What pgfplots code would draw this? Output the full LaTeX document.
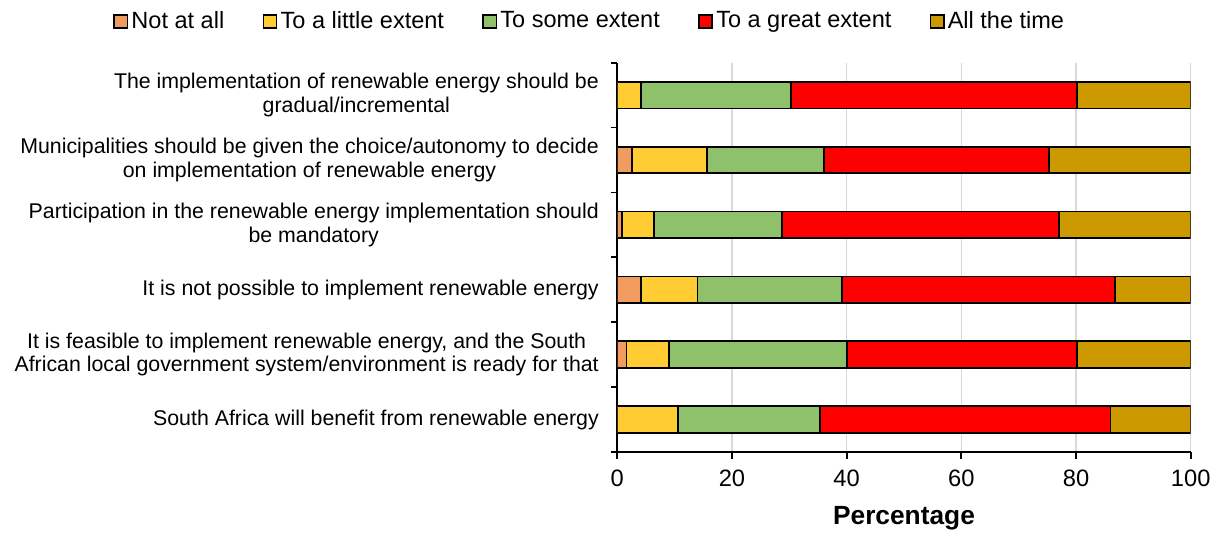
\documentclass[border=0pt]{standalone}
\usepackage{pgfplots}
\usepackage{pgfplotstable}
\pgfplotsset{compat=1.18}
\usepackage{fontspec}
\setmainfont{Liberation Sans}

\definecolor{cNot}{RGB}{242,155,95}
\definecolor{cLittle}{RGB}{255,204,51}
\definecolor{cSome}{RGB}{142,193,106}
\definecolor{cGreat}{RGB}{255,0,0}
\definecolor{cAll}{RGB}{204,153,0}
\definecolor{cGrid}{RGB}{217,217,217}

% Share of respondents (%) per statement, top statement first
\pgfplotstableread{
idx NotAtAll Little Some Great AllTime
0   0.0      4.1    26.2  49.9  19.8
1   2.5      13.1   20.4  39.3  24.7
2   0.8      5.6    22.3  48.3  23.0
3   4.1      9.9    25.2  47.6  13.2
4   1.6      7.4    31.0  40.2  19.8
5   0.0      10.6   24.7  50.7  14.0
}\survey

\pgfplotsset{
  sqlegend/.style={legend image code/.code={%
    \draw[##1,draw=black,line width=0.8bp] (0bp,-3.3bp) rectangle (6.6bp,3.3bp);}},
}

\begin{document}
\begin{tikzpicture}
\path[use as bounding box] (-308.65bp,-42bp) rectangle (301.85bp,226bp);
\begin{axis}[
  at={(0,0)}, anchor=south west,
  scale only axis,
  width=286.7bp, height=194.7bp,
  xbar stacked,
  bar width=13.35bp,
  xmin=0, xmax=100,
  ymin=-0.5, ymax=5.5,
  y dir=reverse,
  axis x line*=bottom,
  axis y line*=left,
  axis line style={line width=1bp},
  xtick={0,20,...,100},
  xmajorgrids,
  major grid style={cGrid, line width=0.8bp},
  tick align=outside,
  xtick style={black, line width=0.9bp, /pgfplots/major tick length=3.5bp},
  ytick={0,...,5},
  major y tick style={draw=none},
  minor ytick={-0.5,0.5,...,5.5},
  minor tick length=3bp,
  minor y tick style={black, line width=0.9bp},
  yticklabels={
    {The implementation of renewable energy should be\\gradual/incremental},
    {Municipalities should be given the choice/autonomy to decide\\on implementation of renewable energy},
    {Participation in the renewable energy implementation should\\be mandatory},
    {It is not possible to implement renewable energy},
    {It is feasible to implement renewable energy, and the South\\African local government system/environment is ready for that},
    {South Africa will benefit from renewable energy}},
  yticklabel style={align=center, font=\fontsize{10.7}{11.7}\selectfont, xshift=-1.5bp},
  /pgf/number format/assume math mode=true,
  xticklabel style={font=\fontsize{11.9}{14}\selectfont, yshift=-1bp},
  xlabel={\textbf{Percentage}},
  xlabel style={font=\fontsize{13.2}{15}\selectfont, at={(axis description cs:0.5,0)}, anchor=center, yshift=-33bp},
  legend columns=5,
  legend style={
    at={(-0.0476,1.106)}, anchor=center,
    draw=none, fill=none,
    font=\fontsize{11.8}{14}\selectfont,
    /tikz/every even column/.append style={column sep=18bp},
    /tikz/every odd column/.append style={column sep=0.4bp},
    nodes={inner sep=1.2bp},
  },
  every axis plot/.append style={draw=black, line width=0.9bp},
]
\addplot[fill=cNot, sqlegend]    table[x=NotAtAll, y=idx] {\survey};
\addplot[fill=cLittle, sqlegend] table[x=Little,   y=idx] {\survey};
\addplot[fill=cSome, sqlegend]   table[x=Some,     y=idx] {\survey};
\addplot[fill=cGreat, sqlegend]  table[x=Great,    y=idx] {\survey};
\addplot[fill=cAll, sqlegend]    table[x=AllTime,  y=idx] {\survey};
\legend{Not at all, To a little extent, To some extent, To a great extent, All the time}
\end{axis}
\end{tikzpicture}
\end{document}
